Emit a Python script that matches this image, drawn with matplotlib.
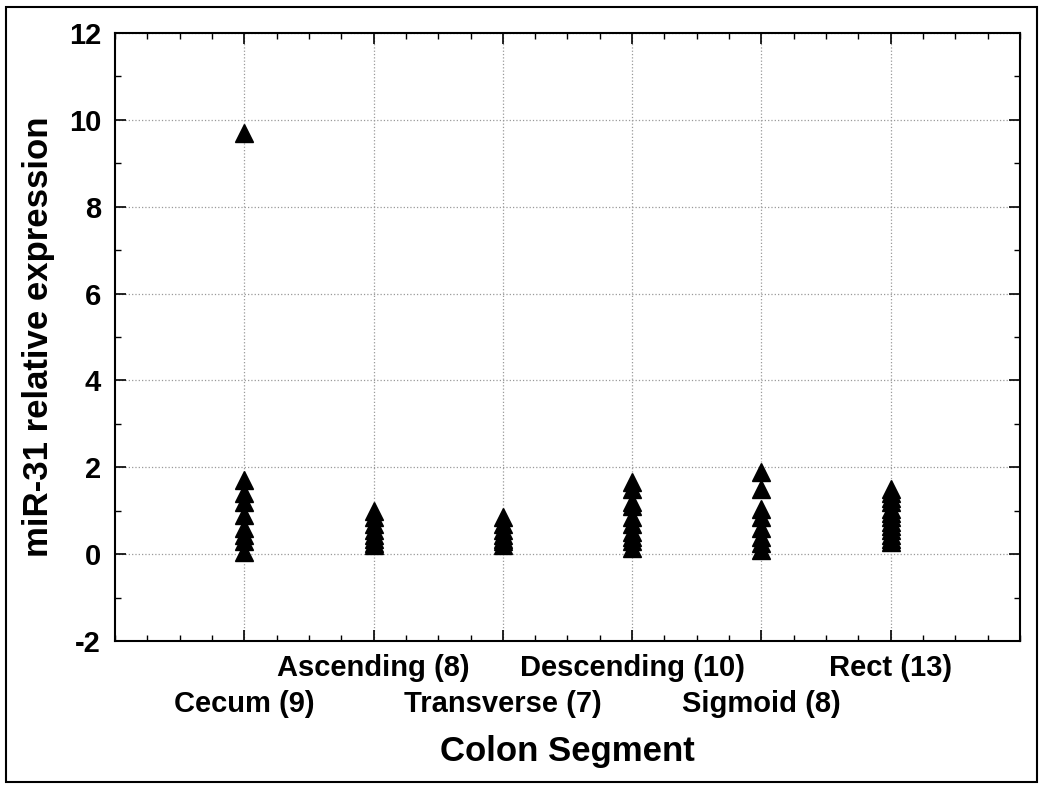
import matplotlib.pyplot as plt
from matplotlib.patches import Rectangle
from matplotlib.ticker import MultipleLocator

plt.rcParams['font.family'] = ['Liberation Sans', 'DejaVu Sans']
plt.rcParams['font.weight'] = 'bold'
plt.rcParams['axes.unicode_minus'] = False

segments = ['Cecum (9)', 'Ascending (8)', 'Transverse (7)', 'Descending (10)', 'Sigmoid (8)', 'Rect (13)']
cecum = [9.7, 1.7, 1.4, 1.2, 0.9, 0.6, 0.45, 0.3, 0.05]
ascending = [1.0, 0.85, 0.7, 0.55, 0.45, 0.35, 0.25, 0.2]
transverse = [0.85, 0.7, 0.55, 0.45, 0.35, 0.3, 0.22]
descending = [1.65, 1.5, 1.2, 1.1, 0.85, 0.7, 0.5, 0.4, 0.3, 0.15]
sigmoid = [1.9, 1.5, 1.05, 0.85, 0.6, 0.4, 0.25, 0.1]
rect = [1.5, 1.4, 1.3, 1.2, 1.05, 0.95, 0.85, 0.75, 0.65, 0.55, 0.45, 0.35, 0.28]
groups = [cecum, ascending, transverse, descending, sigmoid, rect]

fig = plt.figure(figsize=(10.5, 7.92), dpi=100)
ax = fig.add_axes([0.1095, 0.1907, 0.8619, 0.7676])

for i, vals in enumerate(groups):
    ax.plot([i + 1] * len(vals), vals, linestyle='none', marker='^',
            markersize=13, color='black', zorder=3)

ax.set_xlim(0, 7)
ax.set_ylim(-2, 12)
ax.set_xticks(range(1, 7))
ax.set_xticklabels([])
ax.xaxis.set_minor_locator(MultipleLocator(0.25))
ax.yaxis.set_major_locator(MultipleLocator(2))
ax.yaxis.set_minor_locator(MultipleLocator(1))
ax.tick_params(which='both', direction='in', top=True, right=True)
ax.tick_params(which='major', length=8, width=1.2, labelsize=21, pad=10)
ax.tick_params(which='minor', length=4, width=1.0)
ax.grid(True, which='major', linestyle=':', color='#999999', linewidth=0.9)
for s in ax.spines.values():
    s.set_linewidth(1.5)

# alternating category labels
for i, name in enumerate(segments):
    off = -63 if i % 2 == 0 else -27
    ax.annotate(name, xy=(i + 1, 0), xycoords=('data', 'axes fraction'),
                xytext=(0, off), textcoords='offset pixels',
                ha='center', va='center', fontsize=21, fontweight='bold')

fig.text(39 / 1050, 1 - 337 / 792, 'miR-31 relative expression', rotation=90,
         ha='center', va='center', fontsize=25, fontweight='bold')
fig.text(0.5 * (0.1095 + 0.9714), 1 - 752 / 792, 'Colon Segment', ha='center', va='center',
         fontsize=25, fontweight='bold')

fig.patches.append(Rectangle((6 / 1050, 10 / 792), 1031 / 1050, 775 / 792,
                             transform=fig.transFigure, fill=False,
                             edgecolor='black', linewidth=1.5))

fig.savefig('out.png', dpi=100)
